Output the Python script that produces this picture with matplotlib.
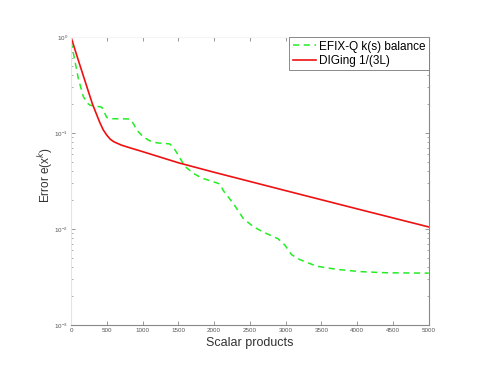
import numpy as np
import matplotlib
matplotlib.use("Agg")
import matplotlib.pyplot as plt
from matplotlib.ticker import LogLocator, NullFormatter

# DIGing 1/(3L)
x_red = [0, 100, 200, 300, 400, 450, 500, 550, 600, 700, 800, 1000, 1500, 2000,
         3000, 4000, 5000]
err_red = [1.0, 0.58, 0.34, 0.2, 0.13, 0.108, 0.095, 0.086, 0.081, 0.075, 0.071,
           0.064, 0.049, 0.039, 0.0251, 0.0162, 0.0105]

# EFIX-Q k(s) balance
x_green = [0, 33, 102, 172, 230, 265, 358, 430, 470, 500, 560, 820, 870, 920, 1010,
           1100, 1200, 1380, 1430, 1480, 1590, 1710, 1825, 2080, 2130, 2267, 2406,
           2546, 2686, 2895, 2989, 3082, 3198, 3431, 3710, 4036, 4409, 5000]
err_green = [0.89, 0.68, 0.37, 0.24, 0.204, 0.195, 0.19, 0.186, 0.162, 0.145, 0.141,
             0.14, 0.126, 0.107, 0.091, 0.083, 0.079, 0.077, 0.071, 0.062, 0.045,
             0.038, 0.034, 0.0295, 0.025, 0.0185, 0.0129, 0.0106, 0.0093, 0.0079,
             0.0068, 0.0054, 0.0048, 0.0041, 0.0038, 0.0036, 0.0035, 0.00347]

xticks = list(range(0, 5001, 500))

plt.rcParams["font.family"] = ["Liberation Sans", "DejaVu Sans"]

fig = plt.figure(figsize=(4.84, 3.74), dpi=100)
ax = fig.add_axes([0.1467, 0.131, 0.7393, 0.770])

ax.semilogy(x_green, err_green, "--", color="#22ee22", lw=1.1, dashes=(4, 3),
            label="EFIX-Q k(s) balance")
ax.semilogy(x_red, err_red, "-", color="#ee1111", lw=1.2, label="DIGing 1/(3L)")

ax.set_xlim(0, 5000)
ax.set_ylim(1e-3, 1)
ax.set_xticks(xticks)
ax.set_xticklabels([str(t) for t in xticks])
ax.yaxis.set_major_locator(LogLocator(base=10, numticks=10))
ax.yaxis.set_minor_locator(LogLocator(base=10, subs=np.arange(2, 10), numticks=10))
ax.yaxis.set_minor_formatter(NullFormatter())

ax.tick_params(which="both", direction="in", top=True, right=True,
               colors="#888888", labelsize=4.5, labelcolor="#555555", pad=2)
ax.tick_params(which="major", length=3, width=0.6)
ax.tick_params(which="minor", length=1.5, width=0.5)

for side in ["bottom", "right"]:
    ax.spines[side].set_color("#888888")
    ax.spines[side].set_linewidth(0.8)
ax.spines["left"].set_color("#e4e4e4")
ax.spines["top"].set_color("#f4f4f4")

ax.set_xlabel("Scalar products", fontsize=9, color="#333333", labelpad=3)
ax.set_ylabel("Error e(x$^{k}$)", fontsize=8.5, color="#333333", labelpad=2)
ax.yaxis.set_label_coords(-0.045, 0.52)

leg = ax.legend(loc="upper right", fontsize=8.5, fancybox=False, framealpha=1,
                edgecolor="#777777", borderaxespad=0, handlelength=2.0,
                handletextpad=0.2, borderpad=0.3, labelspacing=0.2)
leg.get_frame().set_linewidth(0.6)

fig.savefig("out.png", dpi=100, facecolor="white")
